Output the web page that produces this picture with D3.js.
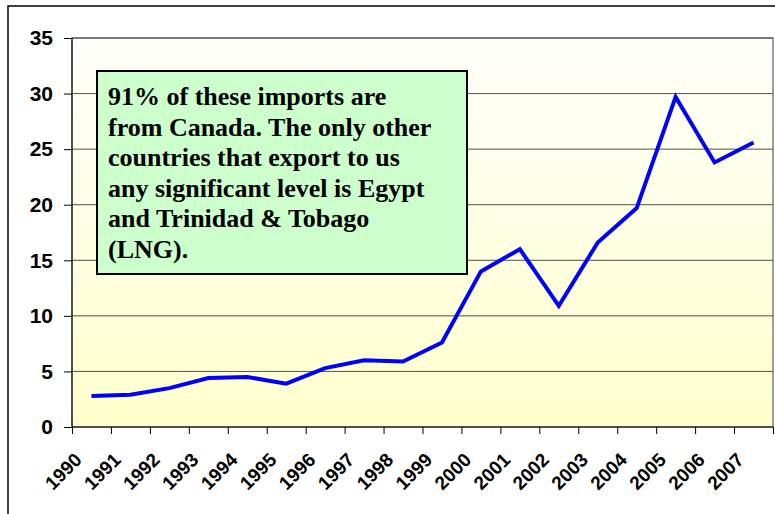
<!DOCTYPE html>
<meta charset="utf-8">
<style>
body { margin: 0; background: #fff; }
svg { display: block; }
.axis text { font-family: "Liberation Sans", Arial, sans-serif; font-weight: bold; fill: #000; }
.note { font-family: "Liberation Serif", "Times New Roman", serif; font-weight: bold; font-size: 26px; fill: #000; }
</style>
<body>
<script src="https://cdn.jsdelivr.net/npm/d3@7"></script>
<script>

var years = ["1990","1991","1992","1993","1994","1995","1996","1997","1998",
             "1999","2000","2001","2002","2003","2004","2005","2006","2007"];
var imports = [2.8, 2.9, 3.5, 4.4, 4.5, 3.9, 5.3, 6.0, 5.9,
               7.6, 14.0, 16.0, 10.9, 16.6, 19.7, 29.7, 23.8, 25.6];
var yTicks = [0, 5, 10, 15, 20, 25, 30, 35];
var noteLines = ["91% of these imports are",
                 "from Canada. The only other",
                 "countries that export to us",
                 "any significant level is Egypt",
                 "and Trinidad & Tobago",
                 "(LNG)."];

var width = 775,
    height = 514,
    plotLeft = 72, plotRight = 773, plotTop = 38, plotBottom = 427;

var svg = d3.select("body").append("svg")
    .attr("width", width)
    .attr("height", height);

var grad = svg.append("defs").append("linearGradient")
    .attr("id", "bg")
    .attr("x1", 0).attr("y1", 0).attr("x2", 0).attr("y2", 1);
grad.append("stop").attr("offset", "0%").attr("stop-color", "#fffffb");
grad.append("stop").attr("offset", "100%").attr("stop-color", "#ffffcc");

// outer chart frame
svg.append("rect")
    .attr("x", 8).attr("y", 6)
    .attr("width", 800).attr("height", 600)
    .attr("fill", "none")
    .attr("stroke", "#000")
    .attr("stroke-width", 1.5);

var x = d3.scaleBand()
    .domain(years)
    .range([plotLeft, plotRight])
    .padding(0);

var xEdge = d3.scaleLinear()
    .domain([0, years.length])
    .range([plotLeft, plotRight]);

var y = d3.scaleLinear()
    .domain([0, 35])
    .range([plotBottom, plotTop]);

// plot area
svg.append("rect")
    .attr("x", plotLeft).attr("y", plotTop)
    .attr("width", plotRight - plotLeft).attr("height", plotBottom - plotTop)
    .attr("fill", "url(#bg)")
    .attr("stroke", "#808080")
    .attr("stroke-width", 1.5);

svg.append("g").selectAll("line")
    .data(yTicks.slice(1))
  .enter().append("line")
    .attr("x1", plotLeft).attr("x2", plotRight)
    .attr("y1", function(d) { return y(d); })
    .attr("y2", function(d) { return y(d); })
    .attr("stroke", "#505050")
    .attr("stroke-width", 1);

// y axis
var yAxis = svg.append("g")
    .attr("class", "axis")
    .attr("transform", "translate(" + plotLeft + ",0)")
    .call(d3.axisLeft(y).tickValues(yTicks).tickSize(8).tickPadding(11));
yAxis.selectAll("text").style("font-size", "21px");
yAxis.selectAll("line, path").attr("stroke", "#000");
yAxis.select(".domain").attr("d", "M0," + plotTop + "V" + plotBottom);

// x axis (ticks between categories)
var xAxis = svg.append("g")
    .attr("class", "axis")
    .attr("transform", "translate(0," + plotBottom + ")")
    .call(d3.axisBottom(xEdge).tickValues(d3.range(years.length + 1))
      .tickSize(7).tickFormat(""));
xAxis.selectAll("line, path").attr("stroke", "#000");
xAxis.select(".domain").attr("d", "M" + plotLeft + ",0H" + plotRight);

svg.append("g")
    .attr("class", "axis")
  .selectAll("text")
    .data(years)
  .enter().append("text")
    .attr("text-anchor", "end")
    .style("font-size", "19px")
    .attr("transform", function(d) {
      return "translate(" + (x(d) + x.bandwidth() / 2 - 8.5) + "," + 461 + ")rotate(-45)";
    })
    .text(function(d) { return d; });

// data line
var line = d3.line()
    .x(function(d, i) { return x(years[i]) + x.bandwidth() / 2; })
    .y(function(d) { return y(d); });

svg.append("path")
    .datum(imports)
    .attr("d", line)
    .attr("fill", "none")
    .attr("stroke", "#0000ff")
    .attr("stroke-width", 4)
    .attr("stroke-linejoin", "miter");

// annotation box
svg.append("rect")
    .attr("x", 97).attr("y", 71)
    .attr("width", 370).attr("height", 203)
    .attr("fill", "#ccffcc")
    .attr("stroke", "#000")
    .attr("stroke-width", 2);

svg.append("g").selectAll("text")
    .data(noteLines)
  .enter().append("text")
    .attr("class", "note")
    .attr("x", 108)
    .attr("y", function(d, i) { return 105 + i * 30.6; })
    .text(function(d) { return d; });

</script>
